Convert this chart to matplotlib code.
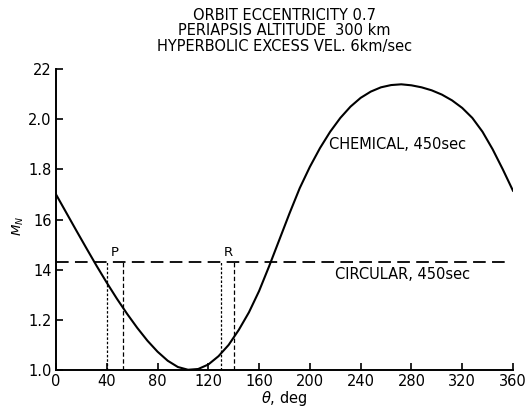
import numpy as np
import matplotlib
matplotlib.use("Agg")
import matplotlib.pyplot as plt

# chemical propulsion curve
theta = [0, 8, 16, 24, 32, 40, 48, 56, 64, 72, 80, 88, 96, 104, 112, 120,
         128, 136, 144, 152, 160, 168, 176, 184, 192, 200, 208, 216, 224,
         232, 240, 248, 256, 264, 272, 280, 288, 296, 304, 312, 320, 328,
         336, 344, 352, 360]
m_chem = [1.700, 1.628, 1.556, 1.485, 1.415, 1.348, 1.284, 1.224, 1.168,
          1.117, 1.073, 1.037, 1.012, 1.001, 1.004, 1.022, 1.055, 1.100,
          1.160, 1.230, 1.315, 1.415, 1.520, 1.625, 1.725, 1.810, 1.885,
          1.950, 2.005, 2.050, 2.085, 2.110, 2.127, 2.136, 2.139, 2.135,
          2.127, 2.115, 2.098, 2.075, 2.045, 2.005, 1.950, 1.880, 1.800,
          1.715]

m_circ = 1.43
circ_range = [0, 358]
p_window = [40, 52.5]
r_window = [130, 140.5]

xticks = [0, 40, 80, 120, 160, 200, 240, 280, 320, 360]
xticklabels = ["0", "40", "80", "120", "160", "200", "240", "280", "320", "360"]
yticks = [1.0, 1.2, 1.4, 1.6, 1.8, 2.0, 2.2]
yticklabels = ["1.0", "1.2", "14", "16", "1.8", "2.0", "22"]

fig = plt.figure(figsize=(5.31, 4.15), dpi=100)
ax = fig.add_axes([0.1055, 0.1084, 0.8605, 0.7253])

ax.plot(theta, m_chem, color="black", lw=1.5)
ax.plot(circ_range, [m_circ, m_circ], color="black", lw=1.3,
        linestyle=(0, (7, 3.5)))

for win in (p_window, r_window):
    ax.plot([win[0], win[0]], [1.0, m_circ], color="black", lw=0.9,
            linestyle=(0, (2, 1.5)))
    ax.plot([win[1], win[1]], [1.0, m_circ], color="black", lw=0.9,
            linestyle=(0, (3.5, 2)))

fs = 10.5
ax.text(46.5, 1.47, "P", fontsize=9.5, ha="center", va="center")
ax.text(135.5, 1.47, "R", fontsize=9.5, ha="center", va="center")
ax.text(215, 1.90, "CHEMICAL, 450sec", fontsize=10.5, ha="left", va="center")
ax.text(220, 1.38, "CIRCULAR, 450sec", fontsize=10.5, ha="left", va="center")

ax.set_xlim(0, 360)
ax.set_ylim(1.0, 2.2)
ax.set_xticks(xticks)
ax.set_xticklabels(xticklabels, fontsize=fs)
ax.set_yticks(yticks)
ax.set_yticklabels(yticklabels, fontsize=fs)
ax.tick_params(direction="in", length=5, width=1.2, pad=3)

ax.spines["top"].set_visible(False)
ax.spines["right"].set_visible(False)
ax.spines["left"].set_linewidth(1.4)
ax.spines["bottom"].set_linewidth(1.4)

ax.set_xlabel(r"$\theta$, deg", fontsize=fs, labelpad=0)
ax.set_ylabel(r"$M_N$", fontsize=9.5)
ax.yaxis.set_label_coords(-0.065, 0.48)

ax.set_title("ORBIT ECCENTRICITY 0.7\nPERIAPSIS ALTITUDE  300 km\n"
             "HYPERBOLIC EXCESS VEL. 6km/sec",
             fontsize=10.5, linespacing=1.05, pad=13)

fig.savefig("out.png", dpi=100)
